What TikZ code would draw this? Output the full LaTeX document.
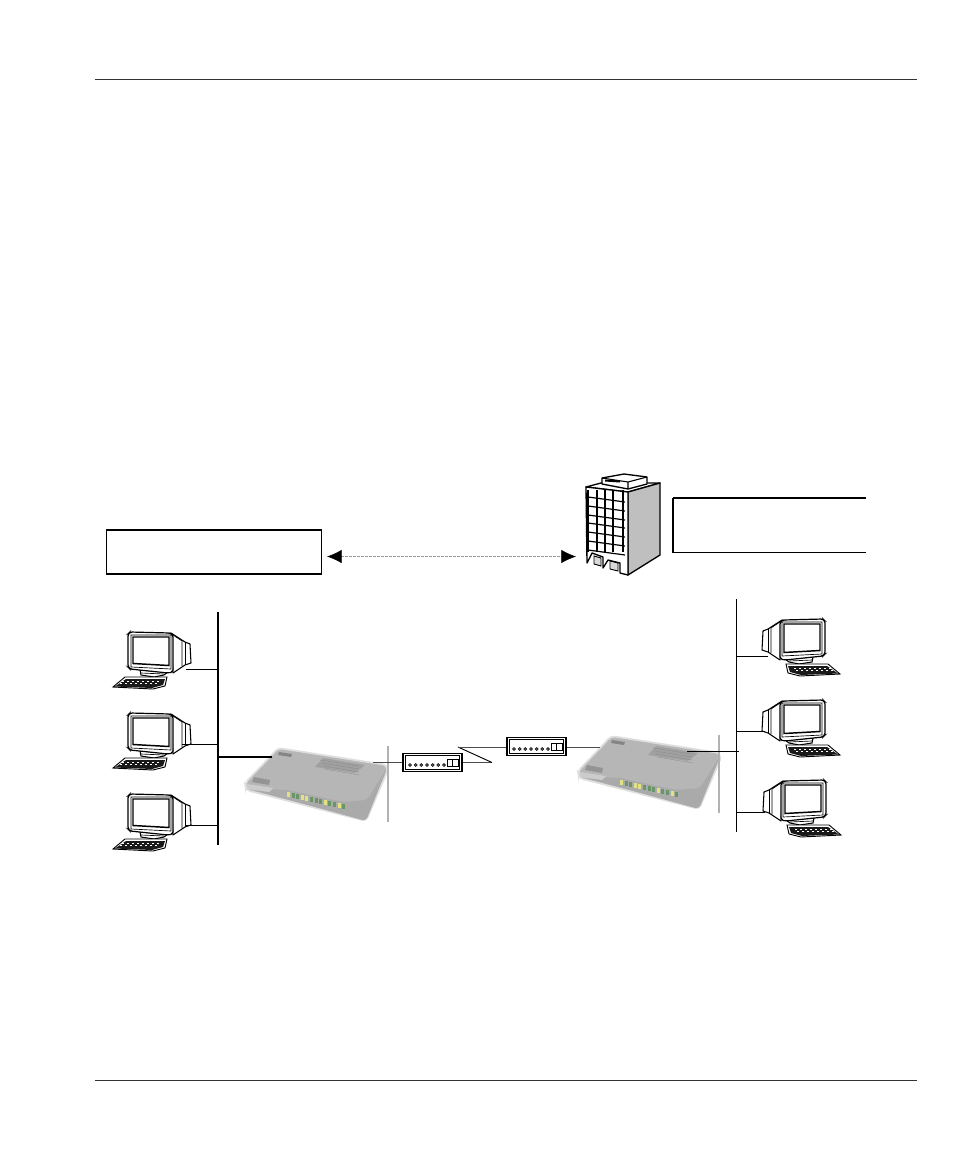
\documentclass[tikz,border=0pt]{standalone}
\usetikzlibrary{arrows.meta}

\definecolor{modemtop}{RGB}{182,182,182}
\definecolor{modemfront}{RGB}{170,170,170}
\definecolor{modemvent}{RGB}{160,160,160}
\definecolor{ledyellow}{RGB}{226,226,130}
\definecolor{ledgreen}{RGB}{105,150,105}

\tikzset{
  thinline/.style={line width=.7pt},
  busline/.style={line width=1.5pt},
  stubline/.style={line width=.7pt},
  fadeline/.style={line width=.9pt, gray!60},
  pagerule/.style={line width=.7pt, black!80},
  labelbox/.style={draw, line width=1.1pt, minimum width=161pt, minimum height=33pt, inner sep=0pt},
  pc/.pic={
    % back of the tube
    \draw[fill=white, line width=.8pt, line join=round] (43,1) -- (57,10) -- (62,12) -- (63,31) -- (57,33) -- (45,41) -- cycle;
    \draw[line width=.7pt] (57,10) -- (57,33);
    \draw[line width=.5pt] (45,3) -- (54,9) -- (54,34);
    % stand
    \draw[fill=white, line width=.8pt] (12,38) -- (13,43) -- (26,45) -- (36,43) -- (40,40) -- cycle;
    \draw[line width=.5pt] (13,41) -- (36,42);
    % bezel
    \draw[fill=white, line width=.9pt, rounded corners=1.5pt] (0,2) -- (2,0) -- (42,1) -- (45,3) -- (45,40) -- (40,41) -- (2,37) -- (0,35) -- cycle;
    \draw[line width=1.1pt] (5,5) -- (41,5) -- (41,33.5) -- (5,31.5) -- cycle;
    \draw[line width=.5pt] (3,3) -- (43,3) -- (43,37) -- (3,35) -- cycle;
    % keyboard
    \draw[fill=white, line width=.7pt] (-3,45) -- (39,45) -- (37,54) -- (25,57) -- (-15,55) -- cycle;
    \fill[black!90] (-2,47) -- (37,47) -- (35,53) -- (24,56) -- (-13,54.5) -- cycle;
    \foreach \kx in {-6,-1,...,29}
      \draw[white, line width=.35pt] (\kx,49) -- (\kx+2,49) (\kx-2,51.5) -- (\kx,51.5);
  },
  modem/.pic={
    % case
    \draw[line width=1.3pt, modemtop!45, rounded corners=3, fill=modemtop] (1,0) -- (110,17) -- (110,24) -- (89,73) -- (-31,42) -- (-32,35) -- (-7,9) -- cycle;
    \fill[modemfront, rounded corners=3] (-31,40) -- (10,42) -- (66,54) -- (90,52) -- (110,20) -- (89,73) -- cycle;
    \fill[modemtop!70!white] (-30,36) -- (-4,40) -- (-8,44) -- (-30,41) -- cycle;
    % vent and badges
    \fill[modemvent] (46,10) -- (88,17) -- (78,25) -- (38,19) -- cycle;
    \foreach \vy in {12,15,18,21}
      \draw[line width=.25pt, black!45] (37+\vy/2,\vy) -- (80+\vy/8,\vy+6);
    \fill[black!48] (2,4) -- (15,6) -- (14,9) -- (1,7) -- cycle;
    \fill[black!42] (-23,29) -- (-7,32) -- (-8,37) -- (-25,34) -- cycle;
    % lamps
    \foreach \lx/\lc in {0/ledyellow,1/ledgreen,2/ledgreen,3/ledyellow,4/ledyellow,5/ledgreen,6/ledgreen,7/ledgreen,8/ledyellow,9/ledgreen,10/ledgreen,11/ledyellow,12/ledgreen}
      \fill[\lc] ({10+4.6*\lx},{43.5+1.05*\lx}) rectangle ++(3,5);
  },
  router/.pic={
    \draw[line width=.9pt, fill=white] (0,0) rectangle (59,18);
    \draw[line width=.6pt] (2.2,2.2) rectangle (56.8,15.8);
    \foreach \dx in {0,...,6}
      \draw[line width=.4pt, fill=black!55] ({7+5.67*\dx},11.5) circle (1.5);
    \draw[line width=.7pt] (44,6) rectangle (55,12.5);
    \draw[line width=.7pt] (49.5,6) -- (49.5,12.5);
  }
}

\begin{document}
\begin{tikzpicture}[x=.75pt, y=-.75pt, >={Latex[black,length=11pt,width=10pt]}]
  \useasboundingbox[fill=white] (0,0) rectangle (954,1159);

  % page rules
  \coordinate (ruleTL) at (95,79.5);
  \coordinate (ruleTR) at (917,79.5);
  \coordinate (ruleBL) at (95,1080);
  \coordinate (ruleBR) at (917,1080);
  \draw[pagerule] (ruleTL) -- (ruleTR);
  \draw[pagerule] (ruleBL) -- (ruleBR);

  % boxes
  \node[labelbox] (boxA) at (214,552) {};
  \coordinate (boxBtop) at (866,498);
  \coordinate (boxBcor) at (673,498);
  \coordinate (boxBlow) at (673,552.5);
  \coordinate (boxBend) at (866,552.5);
  \draw[line width=1.3pt] (boxBtop) -- (boxBcor);
  \draw[line width=.8pt] (boxBcor) -- (boxBlow);
  \draw[line width=1.3pt] (boxBlow) -- (boxBend);

  % arrow
  \coordinate (tipA) at (327,556.5);
  \coordinate (tipB) at (576,556.5);
  \draw[<->, line width=.4pt, gray!80, dash pattern=on 2pt off 1pt] (tipA) -- (tipB);

  % building
  \draw[line width=1pt, fill=white, line join=round] (586,487) -- (601,483) -- (660,483) -- (628,492) -- cycle;
  \draw[line width=1pt, fill=gray!50, line join=round] (628,492) -- (660,483) -- (660,555) -- (628,575) -- cycle;
  \draw[line width=1pt, fill=white, line join=round] (586,487) -- (628,492) -- (628,575) -- (620,573) -- (620,563) -- (608,560) -- (603,568) -- (603,557) -- (592,553) -- (587,563) -- cycle;
  \draw[line width=1pt, fill=white, line join=round] (602,478) -- (624,474) -- (647,477) -- (647,484) -- (628,489) -- (602,484) -- cycle;
  \draw[line width=.8pt] (628,489) -- (628,482) -- (602,478) (628,482) -- (647,477);
  \fill (605,479.5) -- (620,480.5) -- (620,482.5) -- (605,481.5) -- cycle;
  \foreach \wx/\wl in {588/.9,597/.8,605/1.2,613/.8,623/.9}
    \draw[line width=\wl pt] (\wx,490) -- (\wx,552);
  \foreach \wy in {497,506,515,523,532,541,550}
    \draw[line width=.9pt] (588,\wy) -- (625,\wy+5);
  \draw[line width=.7pt, fill=gray!30] (594,556) -- (601,558) -- (601,566) -- (594,564) -- cycle;
  \draw[line width=.7pt, fill=gray!30] (610,561) -- (618,563) -- (618,571) -- (610,569) -- cycle;

  % computers on the left
  \pic (pcA) at (128,632) {pc};
  \pic (pcB) at (128,713) {pc};
  \pic (pcC) at (128,794) {pc};
  % computers on the right
  \pic[xscale=-1] (pcD) at (825,619) {pc};
  \pic[xscale=-1] (pcE) at (825,700) {pc};
  \pic[xscale=-1] (pcF) at (826,780) {pc};

  % modems
  \pic (modemA) at (277,748) {modem};
  \pic (modemB) at (610,736) {modem};

  % left bus
  \coordinate (busAtop) at (218,612);
  \coordinate (busAlow) at (218,845);
  \draw[busline] (busAtop) -- (busAlow);
  \coordinate (stubA) at (186,669);
  \coordinate (stubB) at (182,744);
  \coordinate (stubC) at (185,825);
  \coordinate (feedA) at (272,757);
  \draw[stubline] (stubA) -- (stubA -| busAtop);
  \draw[stubline] (stubB) -- (stubB -| busAtop);
  \draw[stubline] (stubC) -- (stubC -| busAtop);
  \draw[busline] (feedA) -- (feedA -| busAtop);

  % right bus
  \coordinate (busBtop) at (736,599);
  \coordinate (busBlow) at (736,832);
  \draw[thinline] (busBtop) -- (busBlow);
  \coordinate (stubD) at (768,656);
  \coordinate (stubE) at (765,731);
  \coordinate (stubF) at (765,812);
  \draw[stubline] (stubD) -- (stubD -| busBtop);
  \draw[stubline] (stubE) -- (stubE -| busBtop);
  \draw[stubline] (stubF) -- (stubF -| busBtop);

  % grey posts beside the modems
  \coordinate (postAtop) at (388,746);
  \coordinate (postAlow) at (388,822);
  \coordinate (postBtop) at (719,735);
  \coordinate (postBlow) at (719,813);
  \draw[fadeline] (postAtop) -- (postAlow);
  \draw[fadeline] (postBtop) -- (postBlow);

  % modem to post
  \coordinate (feedB) at (373,762.5);
  \coordinate (feedC) at (687,751);
  \coordinate (feedD) at (739,751);
  \coordinate (feedE) at (600,747);
  \coordinate (bendA) at (492,762.5);
  \coordinate (bendB) at (458,747);
  \coordinate (routerAport) at (403,762.5);
  \coordinate (routerAout) at (462,762.5);
  \coordinate (routerBin) at (507,747);
  \coordinate (routerBout) at (566,747);
  \draw[stubline, black!70] (feedB) -- (routerAport);
  \draw[stubline] (feedC) -- (feedD);
  \draw[stubline, black!70] (routerBout) -- (feedE);
  \draw[stubline, black!70] (routerAout) -- (bendA);
  \draw[stubline] (bendA) -- (bendB);
  \draw[stubline, black!70] (bendB) -- (routerBin);

  % routers
  \pic (routerA) at (403,753.5) {router};
  \pic (routerB) at (507,737.5) {router};
\end{tikzpicture}
\end{document}
